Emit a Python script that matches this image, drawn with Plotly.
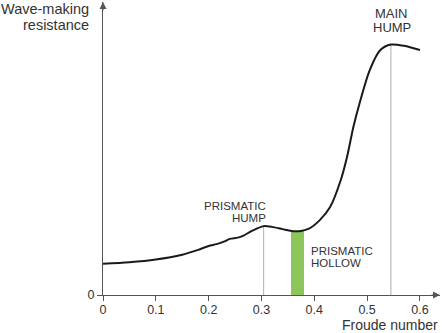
import plotly.graph_objects as go

# Wave-making resistance curve against Froude number (arbitrary units, main hump = 100)
froude = [0.0, 0.05, 0.10, 0.15, 0.18, 0.20, 0.215, 0.23, 0.24, 0.255, 0.265, 0.28,
          0.29, 0.304, 0.32, 0.34, 0.36, 0.375, 0.39, 0.41, 0.43, 0.45, 0.462, 0.474,
          0.485, 0.505, 0.525, 0.545, 0.57, 0.60]
resistance = [12.5, 13.1, 14.2, 16.1, 18.0, 19.6, 20.3, 21.4, 22.4, 22.9, 23.6, 25.4,
              26.4, 27.5, 27.2, 26.3, 25.5, 25.6, 26.5, 29.8, 35.1, 45.8, 55.1, 67.1,
              76.0, 89.8, 97.8, 100.0, 99.5, 97.8]

# Marked humps (drop lines) and the prismatic hollow band
hump_froude = [0.304, 0.545]
hump_resistance = [27.5, 100.0]
hollow_froude = [0.355, 0.380]
hollow_resistance = 25.5

x_ticks = [0, 0.1, 0.2, 0.3, 0.4, 0.5, 0.6]
x_tick_text = ["0", "0.1", "0.2", "0.3", "0.4", "0.5", "0.6"]
x_max, y_max = 0.638, 117

FONT = "Liberation Sans, Arial, sans-serif"
AXIS_COLOR = "#555555"
TEXT_COLOR = "#333333"

W, H = 442, 333
M_L, M_R, M_T, M_B = 103, 2, 2, 38
PLOT_W, PLOT_H = W - M_L - M_R, H - M_T - M_B

fig = go.Figure()

# Prismatic hollow band
fig.add_trace(go.Bar(
    x=[(hollow_froude[0] + hollow_froude[1]) / 2],
    y=[hollow_resistance],
    width=[hollow_froude[1] - hollow_froude[0]],
    marker=dict(color="#8cc65b", line=dict(width=0)),
    hoverinfo="skip", showlegend=False,
))

# Drop lines at the humps
for xf, yr in zip(hump_froude, hump_resistance):
    fig.add_trace(go.Scatter(
        x=[xf, xf], y=[0, yr], mode="lines",
        line=dict(color="#bbbbbb", width=1.2),
        hoverinfo="skip", showlegend=False,
    ))

# Resistance curve
fig.add_trace(go.Scatter(
    x=froude, y=resistance, mode="lines",
    line=dict(color="#1a1a1a", width=2, shape="spline", smoothing=0.8),
    hoverinfo="skip", showlegend=False,
))

# Axis arrowheads
fig.add_annotation(x=x_max, y=0, ax=-10, ay=0, xref="x", yref="y",
                   showarrow=True, arrowhead=2, arrowsize=1.4, arrowwidth=1,
                   arrowcolor=AXIS_COLOR, text="")
fig.add_annotation(x=0, y=y_max, ax=0, ay=10, xref="x", yref="y",
                   showarrow=True, arrowhead=2, arrowsize=1.4, arrowwidth=1,
                   arrowcolor=AXIS_COLOR, text="")


def data_label(lines, x, y, anchor, xshift, yshifts, size):
    """Multi-line label tied to a data point, one annotation per line."""
    for text, ys in zip(lines, yshifts):
        fig.add_annotation(x=x, y=y, xref="x", yref="y", text=text,
                           showarrow=False, xanchor=anchor, yanchor="middle",
                           xshift=xshift, yshift=ys,
                           font=dict(family=FONT, size=size, color=TEXT_COLOR))


def page_label(text, px, py, anchor, size):
    """Label placed at a page position (px, py from the top-left corner)."""
    fig.add_annotation(x=(px - M_L) / PLOT_W, y=(H - M_B - py) / PLOT_H,
                       xref="paper", yref="paper", text=text, showarrow=False,
                       xanchor=anchor, yanchor="middle",
                       font=dict(family=FONT, size=size, color=TEXT_COLOR))


data_label(["PRISMATIC", "HUMP"], hump_froude[0], hump_resistance[0],
           "right", 4, [20.5, 8.5], 11.5)
data_label(["PRISMATIC", "HOLLOW"], hollow_froude[1], hollow_resistance,
           "left", 5, [-19.5, -31.5], 11.5)
data_label(["MAIN", "HUMP"], hump_froude[1], hump_resistance[1],
           "center", 1, [31.3, 17.1], 13)

page_label("Wave-making", 91, 9, "right", 14.5)
page_label("resistance", 91, 24.5, "right", 14.5)
page_label("Froude number", 440, 324.5, "right", 14)

fig.update_layout(
    width=W, height=H,
    margin=dict(l=M_L, r=M_R, t=M_T, b=M_B),
    paper_bgcolor="white", plot_bgcolor="white",
    bargap=0,
    xaxis=dict(range=[0, x_max], showgrid=False, zeroline=False,
               showline=True, linecolor=AXIS_COLOR, linewidth=1,
               tickmode="array", tickvals=x_ticks, ticktext=x_tick_text,
               ticks="outside", ticklen=5, tickcolor=AXIS_COLOR,
               ticklabelstandoff=-2,
               tickfont=dict(family=FONT, size=12.5, color=TEXT_COLOR)),
    yaxis=dict(range=[0, y_max], showgrid=False, zeroline=False,
               showline=True, linecolor=AXIS_COLOR, linewidth=1,
               tickmode="array", tickvals=[0], ticktext=["0"],
               ticks="outside", ticklen=5, tickcolor=AXIS_COLOR,
               tickfont=dict(family=FONT, size=12.5, color=TEXT_COLOR)),
)

fig.write_html("out.html")
